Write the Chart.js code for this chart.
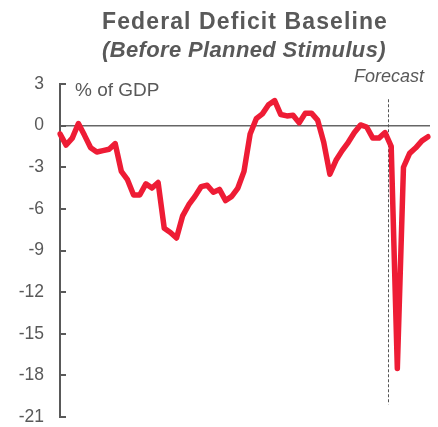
<!DOCTYPE html>
<html>
<head>
<meta charset="utf-8">
<script src="https://cdn.jsdelivr.net/npm/chart.js@4.4.1/dist/chart.umd.min.js"></script>
<style>
  html, body { margin: 0; padding: 0; background: #fff; }
  #wrap { width: 438px; height: 427px; }
</style>
</head>
<body>
<div id="wrap"><canvas id="deficitChart"></canvas></div>
<script>
'use strict';

/* --------------------------------------------------------------------------
   DATA — federal deficit, % of GDP
   -------------------------------------------------------------------------- */
const YEARS = [];
for (let y = 1970; y <= 2030; y++) YEARS.push(String(y));

const DEFICIT = [
    -0.6, -1.4, -0.9, 0.15, -0.7, -1.6, -1.9, -1.8, -1.7, -1.3,
    -3.3, -3.9, -5.0, -5.0, -4.2, -4.5, -4.1, -7.4, -7.7, -8.1,
    -6.5, -5.7, -5.1, -4.4, -4.3, -4.8, -4.6, -5.4, -5.1, -4.5,
    -3.3, -0.6, 0.5, 0.85, 1.5, 1.8, 0.8, 0.7, 0.75, 0.2,
    0.9, 0.9, 0.4, -1.2, -3.5, -2.5, -1.8, -1.2, -0.5, 0.05,
    -0.1, -0.9, -0.9, -0.5, -1.5, -17.5, -3.0, -2.0, -1.6, -1.1,
    -0.8,
];

const Y_TICKS = [3, 0, -3, -6, -9, -12, -15, -18, -21];
const FORECAST_AT = 53.5;           // index where forecast begins
const TITLE_LINES = ['Federal Deficit Baseline', '(Before Planned Stimulus)'];

const GREY = '#595959';
const RED = '#EE1C35';
const FONT = '"Liberation Sans", Arial, sans-serif';

/* --------------------------------------------------------------------------
   ANNOTATIONS — title, unit label, zero line, forecast marker, inner ticks
   -------------------------------------------------------------------------- */
const annotations = {
    id: 'annotations',
    beforeDatasetsDraw(chart) {
        const { ctx, chartArea: a, scales: { x, y } } = chart;
        ctx.save();

        // zero line
        ctx.strokeStyle = '#666';
        ctx.lineWidth = 1.5;
        ctx.beginPath();
        ctx.moveTo(a.left, y.getPixelForValue(0));
        ctx.lineTo(a.right + 2, y.getPixelForValue(0));
        ctx.stroke();

        // tick marks pointing into the plot
        ctx.strokeStyle = GREY;
        ctx.lineWidth = 2;
        Y_TICKS.forEach(v => {
            const py = Math.round(y.getPixelForValue(v));
            ctx.beginPath();
            ctx.moveTo(a.left, py);
            ctx.lineTo(a.left + 6, py);
            ctx.stroke();
        });

        // forecast divider
        const fx = Math.round(x.getPixelForValue(FORECAST_AT)) + 0.5;
        ctx.strokeStyle = '#555';
        ctx.lineWidth = 1;
        ctx.setLineDash([3, 2]);
        ctx.beginPath();
        ctx.moveTo(fx, y.getPixelForValue(1.9));
        ctx.lineTo(fx, y.getPixelForValue(-20.1));
        ctx.stroke();
        ctx.restore();
    },
    afterDraw(chart) {
        const { ctx, chartArea: a } = chart;
        const cx = (a.left + a.right) / 2;
        ctx.save();
        ctx.fillStyle = GREY;
        ctx.textAlign = 'center';
        ctx.textBaseline = 'alphabetic';
        ctx.font = 'bold 23px ' + FONT;
        ctx.letterSpacing = '1.1px';
        ctx.fillText(TITLE_LINES[0], cx + 1, 29);
        ctx.font = 'italic bold 22px ' + FONT;
        ctx.letterSpacing = '0.35px';
        ctx.fillText(TITLE_LINES[1], cx, 57);
        ctx.letterSpacing = '0px';

        ctx.font = 'italic 18px ' + FONT;
        ctx.textAlign = 'right';
        ctx.fillText('Forecast', 424, 82);

        ctx.font = '19px ' + FONT;
        ctx.textAlign = 'left';
        ctx.fillText('% of GDP', 75, 96);
        ctx.restore();
    },
};

/* --------------------------------------------------------------------------
   CHART
   -------------------------------------------------------------------------- */
new Chart(document.getElementById('deficitChart'), {
    type: 'line',
    data: {
        labels: YEARS,
        datasets: [{
            label: 'Deficit (% of GDP)',
            data: DEFICIT,
            borderColor: RED,
            borderWidth: 5.5,
            borderJoinStyle: 'round',
            borderCapStyle: 'round',
            pointRadius: 0,
            tension: 0,
            fill: false,
        }],
    },
    options: {
        responsive: true, maintainAspectRatio: false, animation: false,
        layout: { padding: { top: 84, right: 10, bottom: 10, left: 0 } },
        plugins: { legend: { display: false }, tooltip: { enabled: false }, title: { display: false } },
        scales: {
            x: { display: false, offset: false },
            y: {
                min: -21, max: 3,
                afterFit: s => { s.width = 60; s.paddingTop = 0; s.paddingBottom = 0; },
                afterBuildTicks: s => { s.ticks = Y_TICKS.map(v => ({ value: v })); },
                ticks: { color: GREY, padding: 16, font: { size: 17.5, family: FONT } },
                grid: { display: false, drawTicks: false },
                border: { display: true, color: GREY, width: 2 },
            },
        },
    },
    plugins: [annotations],
});
</script>
</body>
</html>
